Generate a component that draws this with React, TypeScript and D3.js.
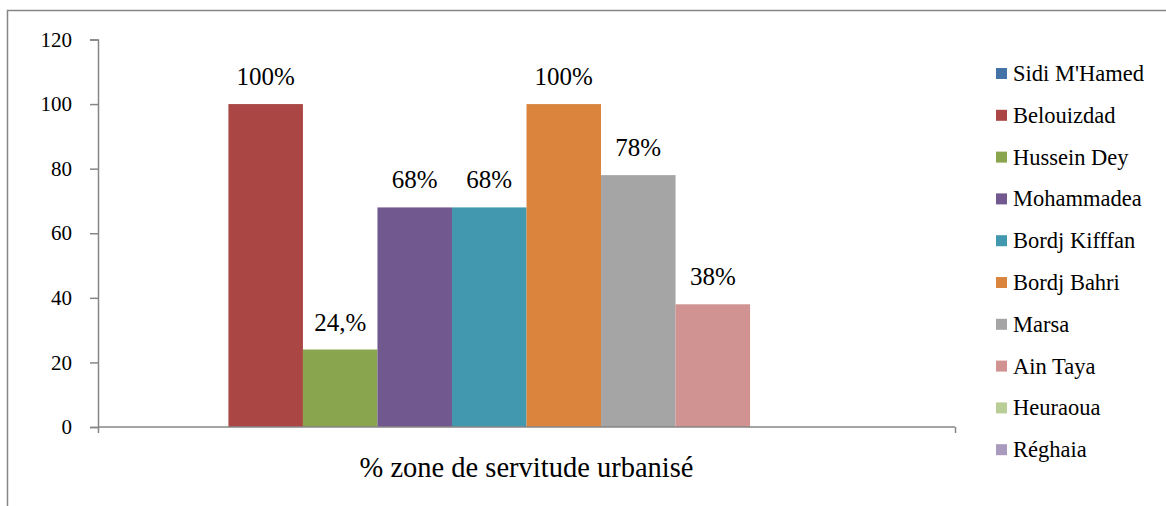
import React, { useRef, useEffect } from 'react';
import * as d3 from 'd3';

const category = '% zone de servitude urbanisé';
const seriesNames = ['Sidi M\'Hamed', 'Belouizdad', 'Hussein Dey', 'Mohammadea', 'Bordj Kifffan', 'Bordj Bahri', 'Marsa', 'Ain Taya', 'Heuraoua', 'Réghaia'];
const seriesValues = [0, 100, 24, 68, 68, 100, 78, 38, 0, 0];
const valueLabels = ['', '100%', '24,%', '68%', '68%', '100%', '78%', '38%', '', ''];
const seriesColors = ['#4572A7', '#AA4643', '#89A54E', '#71588F', '#4198AF', '#DB843D', '#A5A5A5', '#D19392', '#B9CD96', '#A99BBD'];
const yTicks = [0, 20, 40, 60, 80, 100, 120];

const App = () => {
    const svgRef = useRef<SVGSVGElement>(null);

    useEffect(() => {
        const svg = d3.select(svgRef.current);
        svg.selectAll('*').remove();

        const font = '"Liberation Serif", serif';
        const axisColor = '#868686';
        const left = 98, right = 955, top = 39.5, bottom = 427;

        // outer chart frame, runs past the page edges like the reference
        svg.append('rect')
            .attr('x', 7.5).attr('y', 10.5)
            .attr('width', 1300).attr('height', 600)
            .attr('fill', 'white')
            .attr('stroke', axisColor)
            .attr('stroke-width', 1.5);

        const y = d3.scaleLinear().domain([0, 120]).range([bottom, top]);
        const x0 = d3.scaleBand().domain([category]).range([left, right]).paddingInner(0).paddingOuter(0.075);
        const x1 = d3.scaleBand().domain(seriesNames).range([0, x0.bandwidth()]);

        const bars = seriesNames.map((name, i) => ({ name, value: seriesValues[i], label: valueLabels[i], color: seriesColors[i] }));

        svg.append('g')
            .selectAll('rect')
            .data(bars.filter(d => d.value > 0))
            .enter()
            .append('rect')
            .attr('x', d => (x0(category) as number) + (x1(d.name) as number))
            .attr('width', x1.bandwidth())
            .attr('y', d => y(d.value))
            .attr('height', d => y(0) - y(d.value))
            .attr('fill', d => d.color);

        svg.append('g')
            .selectAll('text')
            .data(bars.filter(d => d.label !== ''))
            .enter()
            .append('text')
            .attr('x', d => (x0(category) as number) + (x1(d.name) as number) + x1.bandwidth() / 2)
            .attr('y', d => y(d.value) - 19)
            .attr('text-anchor', 'middle')
            .style('font-family', font)
            .style('font-size', '25px')
            .style('fill', '#000')
            .text(d => d.label);

        // y axis
        const yAxis = svg.append('g')
            .attr('transform', `translate(${left},0)`)
            .call(d3.axisLeft(y).tickValues(yTicks).tickSize(8).tickPadding(18).tickFormat(d3.format('d')));
        yAxis.select('.domain').attr('stroke', axisColor).attr('stroke-width', 1.5);
        yAxis.selectAll('line').attr('stroke', axisColor).attr('stroke-width', 1.5);
        yAxis.selectAll('text')
            .style('font-family', font)
            .style('font-size', '21px')
            .style('fill', '#000');

        // x axis
        const xAxis = svg.append('g')
            .attr('transform', `translate(0,${bottom})`)
            .call(d3.axisBottom(d3.scalePoint().domain(['a', 'b']).range([left, right])).tickSize(6).tickFormat(() => ''));
        xAxis.select('.domain').attr('stroke', axisColor).attr('stroke-width', 1.5).attr('d', `M${left},0H${right}`);
        xAxis.selectAll('line').attr('stroke', axisColor).attr('stroke-width', 1.5);

        svg.append('text')
            .attr('x', (left + right) / 2)
            .attr('y', 477)
            .attr('text-anchor', 'middle')
            .style('font-family', font)
            .style('font-size', '28.5px')
            .style('fill', '#000')
            .text(category);

        // legend
        const legend = svg.append('g')
            .selectAll('g')
            .data(bars)
            .enter()
            .append('g')
            .attr('transform', (d, i) => `translate(996,${73.5 + i * 41.8})`);
        legend.append('rect')
            .attr('x', 0).attr('y', -5.5)
            .attr('width', 11).attr('height', 11)
            .attr('fill', d => d.color);
        legend.append('text')
            .attr('x', 17)
            .attr('y', 7.5)
            .style('font-family', font)
            .style('font-size', '22.5px')
            .style('fill', '#000')
            .text(d => d.name);
    }, []);

    return (
        <svg ref={svgRef} width={1166} height={506} style={{ position: 'absolute', left: 0, top: 0 }}></svg>
    );
};

export default App;
